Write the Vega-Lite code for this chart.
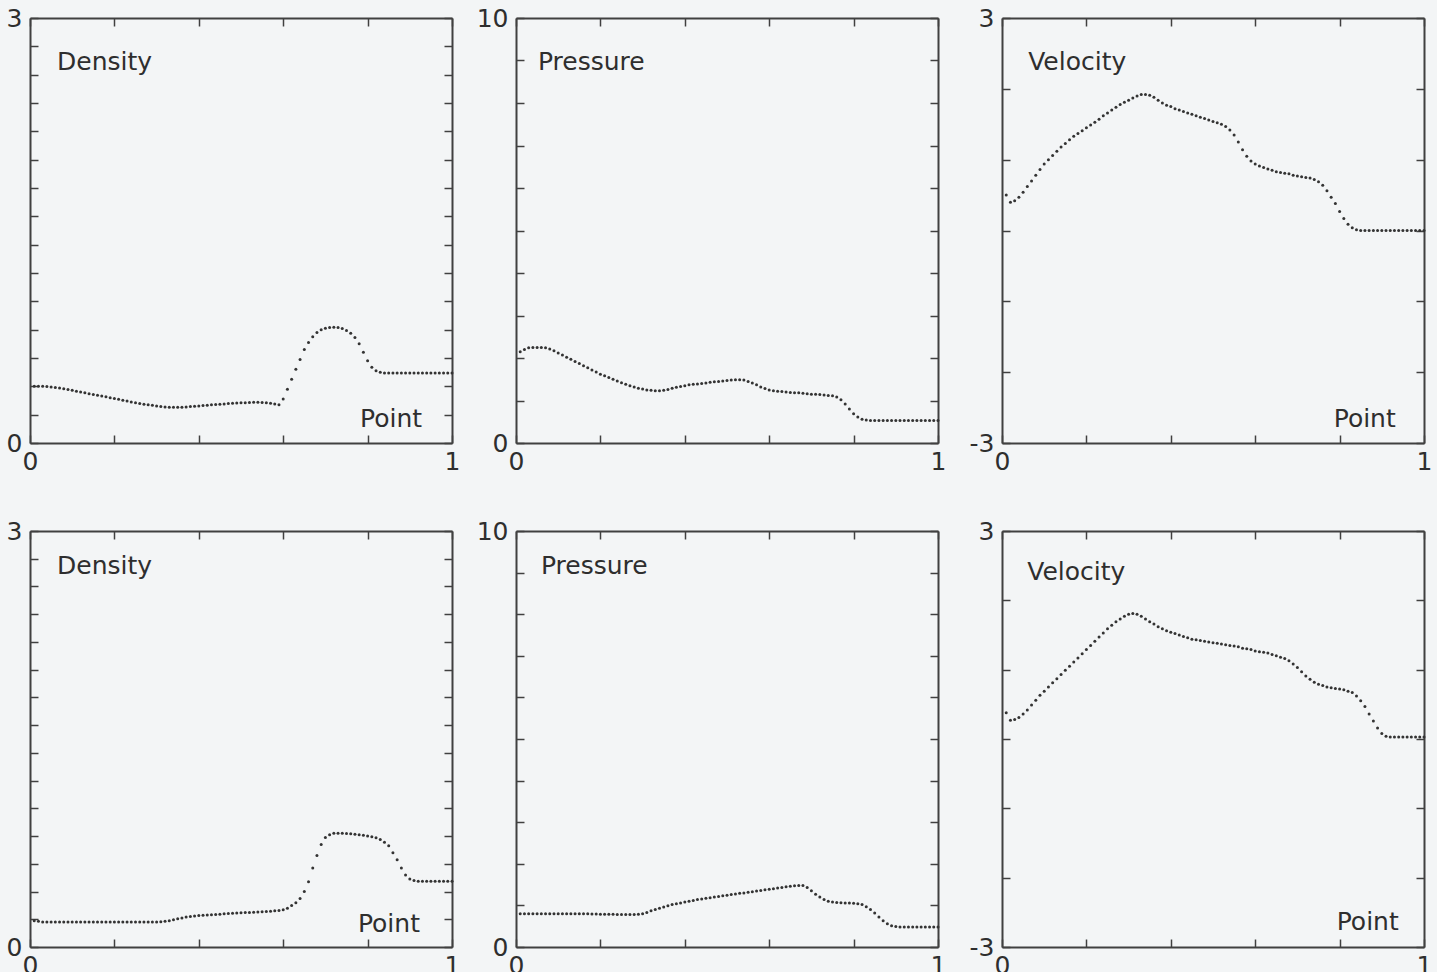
{
"$schema": "https://vega.github.io/schema/vega-lite/v6.json",
"background": "#f3f5f6",
"padding": {"left": 6, "top": 6, "right": 5, "bottom": 5},
"bounds": "flush",
"spacing": {"row": 88, "column": 64},
"columns": 3,
"config": {
  "view": {"stroke": null},
  "axis": {"domainColor": "#404040", "domainWidth": 2, "tickColor": "#404040", "tickWidth": 1.5, "tickSize": -8, "labelPadding": 16, "labelFont": "DejaVu Sans", "labelFontSize": 25, "labelColor": "#2e2e2e", "grid": false, "labelOverlap": false, "labelBound": false, "labelFlush": false}
},
"datasets": {
"d1": [{"x":0.01,"y":0.4},{"x":0.02,"y":0.4},{"x":0.03,"y":0.4},{"x":0.04,"y":0.398},{"x":0.05,"y":0.395},{"x":0.06,"y":0.392},{"x":0.07,"y":0.388},{"x":0.08,"y":0.383},{"x":0.09,"y":0.378},{"x":0.1,"y":0.372},
{"x":0.11,"y":0.366},{"x":0.12,"y":0.36},{"x":0.13,"y":0.354},{"x":0.14,"y":0.348},{"x":0.15,"y":0.342},{"x":0.16,"y":0.337},{"x":0.17,"y":0.332},{"x":0.18,"y":0.326},{"x":0.19,"y":0.32},{"x":0.2,"y":0.314},
{"x":0.21,"y":0.308},{"x":0.22,"y":0.302},{"x":0.23,"y":0.296},{"x":0.24,"y":0.29},{"x":0.25,"y":0.284},{"x":0.26,"y":0.279},{"x":0.27,"y":0.274},{"x":0.28,"y":0.27},{"x":0.29,"y":0.266},{"x":0.3,"y":0.262},
{"x":0.31,"y":0.258},{"x":0.32,"y":0.255},{"x":0.33,"y":0.253},{"x":0.34,"y":0.252},{"x":0.35,"y":0.252},{"x":0.36,"y":0.253},{"x":0.37,"y":0.255},{"x":0.38,"y":0.257},{"x":0.39,"y":0.26},{"x":0.4,"y":0.262},
{"x":0.41,"y":0.265},{"x":0.42,"y":0.267},{"x":0.43,"y":0.27},{"x":0.44,"y":0.272},{"x":0.45,"y":0.274},{"x":0.46,"y":0.276},{"x":0.47,"y":0.278},{"x":0.48,"y":0.28},{"x":0.49,"y":0.282},{"x":0.5,"y":0.284},
{"x":0.51,"y":0.285},{"x":0.52,"y":0.286},{"x":0.53,"y":0.287},{"x":0.54,"y":0.287},{"x":0.55,"y":0.286},{"x":0.56,"y":0.284},{"x":0.57,"y":0.28},{"x":0.58,"y":0.275},{"x":0.59,"y":0.27},{"x":0.6,"y":0.31},
{"x":0.61,"y":0.38},{"x":0.62,"y":0.45},{"x":0.63,"y":0.52},{"x":0.64,"y":0.59},{"x":0.65,"y":0.66},{"x":0.66,"y":0.71},{"x":0.67,"y":0.75},{"x":0.68,"y":0.78},{"x":0.69,"y":0.8},{"x":0.7,"y":0.81},
{"x":0.71,"y":0.815},{"x":0.72,"y":0.817},{"x":0.73,"y":0.815},{"x":0.74,"y":0.808},{"x":0.75,"y":0.795},{"x":0.76,"y":0.775},{"x":0.77,"y":0.745},{"x":0.78,"y":0.7},{"x":0.79,"y":0.64},{"x":0.8,"y":0.58},
{"x":0.81,"y":0.535},{"x":0.82,"y":0.51},{"x":0.83,"y":0.5},{"x":0.84,"y":0.495},{"x":0.85,"y":0.495},{"x":0.86,"y":0.495},{"x":0.87,"y":0.495},{"x":0.88,"y":0.495},{"x":0.89,"y":0.495},{"x":0.9,"y":0.495},
{"x":0.91,"y":0.495},{"x":0.92,"y":0.495},{"x":0.93,"y":0.495},{"x":0.94,"y":0.495},{"x":0.95,"y":0.495},{"x":0.96,"y":0.495},{"x":0.97,"y":0.495},{"x":0.98,"y":0.495},{"x":0.99,"y":0.495},{"x":1,"y":0.495}],
"d2": [{"x":0.01,"y":2.15},{"x":0.02,"y":2.2},{"x":0.03,"y":2.24},{"x":0.04,"y":2.25},{"x":0.05,"y":2.25},{"x":0.06,"y":2.25},{"x":0.07,"y":2.24},{"x":0.08,"y":2.21},{"x":0.09,"y":2.17},{"x":0.1,"y":2.12},
{"x":0.11,"y":2.07},{"x":0.12,"y":2.02},{"x":0.13,"y":1.97},{"x":0.14,"y":1.92},{"x":0.15,"y":1.87},{"x":0.16,"y":1.82},{"x":0.17,"y":1.77},{"x":0.18,"y":1.72},{"x":0.19,"y":1.67},{"x":0.2,"y":1.62},
{"x":0.21,"y":1.58},{"x":0.22,"y":1.54},{"x":0.23,"y":1.5},{"x":0.24,"y":1.46},{"x":0.25,"y":1.42},{"x":0.26,"y":1.38},{"x":0.27,"y":1.35},{"x":0.28,"y":1.32},{"x":0.29,"y":1.29},{"x":0.3,"y":1.27},
{"x":0.31,"y":1.25},{"x":0.32,"y":1.24},{"x":0.33,"y":1.23},{"x":0.34,"y":1.23},{"x":0.35,"y":1.24},{"x":0.36,"y":1.26},{"x":0.37,"y":1.29},{"x":0.38,"y":1.31},{"x":0.39,"y":1.33},{"x":0.4,"y":1.35},
{"x":0.41,"y":1.37},{"x":0.42,"y":1.38},{"x":0.43,"y":1.39},{"x":0.44,"y":1.4},{"x":0.45,"y":1.41},{"x":0.46,"y":1.43},{"x":0.47,"y":1.44},{"x":0.48,"y":1.45},{"x":0.49,"y":1.46},{"x":0.5,"y":1.47},
{"x":0.51,"y":1.48},{"x":0.52,"y":1.49},{"x":0.53,"y":1.49},{"x":0.54,"y":1.48},{"x":0.55,"y":1.45},{"x":0.56,"y":1.41},{"x":0.57,"y":1.37},{"x":0.58,"y":1.32},{"x":0.59,"y":1.28},{"x":0.6,"y":1.25},
{"x":0.61,"y":1.23},{"x":0.62,"y":1.22},{"x":0.63,"y":1.21},{"x":0.64,"y":1.2},{"x":0.65,"y":1.19},{"x":0.66,"y":1.18},{"x":0.67,"y":1.18},{"x":0.68,"y":1.17},{"x":0.69,"y":1.16},{"x":0.7,"y":1.15},
{"x":0.71,"y":1.15},{"x":0.72,"y":1.14},{"x":0.73,"y":1.13},{"x":0.74,"y":1.12},{"x":0.75,"y":1.11},{"x":0.76,"y":1.08},{"x":0.77,"y":1.02},{"x":0.78,"y":0.92},{"x":0.79,"y":0.8},{"x":0.8,"y":0.69},
{"x":0.81,"y":0.61},{"x":0.82,"y":0.56},{"x":0.83,"y":0.54},{"x":0.84,"y":0.53},{"x":0.85,"y":0.53},{"x":0.86,"y":0.53},{"x":0.87,"y":0.53},{"x":0.88,"y":0.53},{"x":0.89,"y":0.53},{"x":0.9,"y":0.53},
{"x":0.91,"y":0.53},{"x":0.92,"y":0.53},{"x":0.93,"y":0.53},{"x":0.94,"y":0.53},{"x":0.95,"y":0.53},{"x":0.96,"y":0.53},{"x":0.97,"y":0.53},{"x":0.98,"y":0.53},{"x":0.99,"y":0.53},{"x":1,"y":0.53}],
"d3": [{"x":0.01,"y":0.5},{"x":0.02,"y":0.4},{"x":0.03,"y":0.42},{"x":0.04,"y":0.47},{"x":0.05,"y":0.54},{"x":0.06,"y":0.62},{"x":0.07,"y":0.7},{"x":0.08,"y":0.78},{"x":0.09,"y":0.86},{"x":0.1,"y":0.94},
{"x":0.11,"y":1.0},{"x":0.12,"y":1.06},{"x":0.13,"y":1.12},{"x":0.14,"y":1.18},{"x":0.15,"y":1.23},{"x":0.16,"y":1.28},{"x":0.17,"y":1.33},{"x":0.18,"y":1.37},{"x":0.19,"y":1.41},{"x":0.2,"y":1.45},
{"x":0.21,"y":1.49},{"x":0.22,"y":1.53},{"x":0.23,"y":1.57},{"x":0.24,"y":1.62},{"x":0.25,"y":1.66},{"x":0.26,"y":1.7},{"x":0.27,"y":1.74},{"x":0.28,"y":1.78},{"x":0.29,"y":1.81},{"x":0.3,"y":1.84},
{"x":0.31,"y":1.87},{"x":0.32,"y":1.9},{"x":0.33,"y":1.92},{"x":0.34,"y":1.92},{"x":0.35,"y":1.91},{"x":0.36,"y":1.88},{"x":0.37,"y":1.84},{"x":0.38,"y":1.8},{"x":0.39,"y":1.77},{"x":0.4,"y":1.75},
{"x":0.41,"y":1.72},{"x":0.42,"y":1.7},{"x":0.43,"y":1.68},{"x":0.44,"y":1.66},{"x":0.45,"y":1.64},{"x":0.46,"y":1.62},{"x":0.47,"y":1.6},{"x":0.48,"y":1.58},{"x":0.49,"y":1.56},{"x":0.5,"y":1.54},
{"x":0.51,"y":1.52},{"x":0.52,"y":1.5},{"x":0.53,"y":1.47},{"x":0.54,"y":1.42},{"x":0.55,"y":1.35},{"x":0.56,"y":1.25},{"x":0.57,"y":1.14},{"x":0.58,"y":1.05},{"x":0.59,"y":0.98},{"x":0.6,"y":0.94},
{"x":0.61,"y":0.91},{"x":0.62,"y":0.89},{"x":0.63,"y":0.87},{"x":0.64,"y":0.85},{"x":0.65,"y":0.83},{"x":0.66,"y":0.82},{"x":0.67,"y":0.81},{"x":0.68,"y":0.8},{"x":0.69,"y":0.78},{"x":0.7,"y":0.77},
{"x":0.71,"y":0.76},{"x":0.72,"y":0.75},{"x":0.73,"y":0.74},{"x":0.74,"y":0.72},{"x":0.75,"y":0.69},{"x":0.76,"y":0.64},{"x":0.77,"y":0.56},{"x":0.78,"y":0.47},{"x":0.79,"y":0.38},{"x":0.8,"y":0.27},
{"x":0.81,"y":0.17},{"x":0.82,"y":0.09},{"x":0.83,"y":0.04},{"x":0.84,"y":0.01},{"x":0.85,"y":0},{"x":0.86,"y":0},{"x":0.87,"y":0},{"x":0.88,"y":0},{"x":0.89,"y":0},{"x":0.9,"y":0},
{"x":0.91,"y":0},{"x":0.92,"y":0},{"x":0.93,"y":0},{"x":0.94,"y":0},{"x":0.95,"y":0},{"x":0.96,"y":0},{"x":0.97,"y":0},{"x":0.98,"y":0},{"x":0.99,"y":0},{"x":1,"y":0}],
"d4": [{"x":0.01,"y":0.19},{"x":0.02,"y":0.185},{"x":0.03,"y":0.18},{"x":0.04,"y":0.18},{"x":0.05,"y":0.18},{"x":0.06,"y":0.18},{"x":0.07,"y":0.18},{"x":0.08,"y":0.18},{"x":0.09,"y":0.18},{"x":0.1,"y":0.18},
{"x":0.11,"y":0.18},{"x":0.12,"y":0.18},{"x":0.13,"y":0.18},{"x":0.14,"y":0.18},{"x":0.15,"y":0.18},{"x":0.16,"y":0.18},{"x":0.17,"y":0.18},{"x":0.18,"y":0.18},{"x":0.19,"y":0.18},{"x":0.2,"y":0.18},
{"x":0.21,"y":0.18},{"x":0.22,"y":0.18},{"x":0.23,"y":0.18},{"x":0.24,"y":0.18},{"x":0.25,"y":0.18},{"x":0.26,"y":0.18},{"x":0.27,"y":0.18},{"x":0.28,"y":0.18},{"x":0.29,"y":0.18},{"x":0.3,"y":0.18},
{"x":0.31,"y":0.182},{"x":0.32,"y":0.186},{"x":0.33,"y":0.19},{"x":0.34,"y":0.196},{"x":0.35,"y":0.203},{"x":0.36,"y":0.21},{"x":0.37,"y":0.216},{"x":0.38,"y":0.22},{"x":0.39,"y":0.224},{"x":0.4,"y":0.227},
{"x":0.41,"y":0.229},{"x":0.42,"y":0.231},{"x":0.43,"y":0.233},{"x":0.44,"y":0.235},{"x":0.45,"y":0.237},{"x":0.46,"y":0.239},{"x":0.47,"y":0.241},{"x":0.48,"y":0.243},{"x":0.49,"y":0.245},{"x":0.5,"y":0.247},
{"x":0.51,"y":0.248},{"x":0.52,"y":0.249},{"x":0.53,"y":0.251},{"x":0.54,"y":0.252},{"x":0.55,"y":0.254},{"x":0.56,"y":0.256},{"x":0.57,"y":0.258},{"x":0.58,"y":0.261},{"x":0.59,"y":0.264},{"x":0.6,"y":0.268},
{"x":0.61,"y":0.28},{"x":0.62,"y":0.3},{"x":0.63,"y":0.32},{"x":0.64,"y":0.35},{"x":0.65,"y":0.4},{"x":0.66,"y":0.47},{"x":0.67,"y":0.57},{"x":0.68,"y":0.66},{"x":0.69,"y":0.74},{"x":0.7,"y":0.79},
{"x":0.71,"y":0.81},{"x":0.72,"y":0.82},{"x":0.73,"y":0.82},{"x":0.74,"y":0.82},{"x":0.75,"y":0.818},{"x":0.76,"y":0.816},{"x":0.77,"y":0.814},{"x":0.78,"y":0.81},{"x":0.79,"y":0.805},{"x":0.8,"y":0.8},
{"x":0.81,"y":0.795},{"x":0.82,"y":0.787},{"x":0.83,"y":0.775},{"x":0.84,"y":0.755},{"x":0.85,"y":0.73},{"x":0.86,"y":0.68},{"x":0.87,"y":0.63},{"x":0.88,"y":0.57},{"x":0.89,"y":0.52},{"x":0.9,"y":0.49},
{"x":0.91,"y":0.48},{"x":0.92,"y":0.475},{"x":0.93,"y":0.475},{"x":0.94,"y":0.475},{"x":0.95,"y":0.475},{"x":0.96,"y":0.475},{"x":0.97,"y":0.475},{"x":0.98,"y":0.475},{"x":0.99,"y":0.475},{"x":1,"y":0.475}],
"d5": [{"x":0.01,"y":0.8},{"x":0.02,"y":0.8},{"x":0.03,"y":0.8},{"x":0.04,"y":0.8},{"x":0.05,"y":0.8},{"x":0.06,"y":0.8},{"x":0.07,"y":0.8},{"x":0.08,"y":0.8},{"x":0.09,"y":0.8},{"x":0.1,"y":0.8},
{"x":0.11,"y":0.8},{"x":0.12,"y":0.8},{"x":0.13,"y":0.8},{"x":0.14,"y":0.8},{"x":0.15,"y":0.8},{"x":0.16,"y":0.8},{"x":0.17,"y":0.8},{"x":0.18,"y":0.795},{"x":0.19,"y":0.795},{"x":0.2,"y":0.79},
{"x":0.21,"y":0.79},{"x":0.22,"y":0.785},{"x":0.23,"y":0.785},{"x":0.24,"y":0.78},{"x":0.25,"y":0.78},{"x":0.26,"y":0.78},{"x":0.27,"y":0.78},{"x":0.28,"y":0.78},{"x":0.29,"y":0.785},{"x":0.3,"y":0.8},
{"x":0.31,"y":0.83},{"x":0.32,"y":0.87},{"x":0.33,"y":0.9},{"x":0.34,"y":0.93},{"x":0.35,"y":0.96},{"x":0.36,"y":0.99},{"x":0.37,"y":1.02},{"x":0.38,"y":1.04},{"x":0.39,"y":1.06},{"x":0.4,"y":1.08},
{"x":0.41,"y":1.1},{"x":0.42,"y":1.12},{"x":0.43,"y":1.14},{"x":0.44,"y":1.155},{"x":0.45,"y":1.17},{"x":0.46,"y":1.185},{"x":0.47,"y":1.2},{"x":0.48,"y":1.215},{"x":0.49,"y":1.23},{"x":0.5,"y":1.245},
{"x":0.51,"y":1.26},{"x":0.52,"y":1.275},{"x":0.53,"y":1.29},{"x":0.54,"y":1.3},{"x":0.55,"y":1.315},{"x":0.56,"y":1.33},{"x":0.57,"y":1.345},{"x":0.58,"y":1.36},{"x":0.59,"y":1.375},{"x":0.6,"y":1.39},
{"x":0.61,"y":1.4},{"x":0.62,"y":1.42},{"x":0.63,"y":1.43},{"x":0.64,"y":1.45},{"x":0.65,"y":1.46},{"x":0.66,"y":1.47},{"x":0.67,"y":1.48},{"x":0.68,"y":1.48},{"x":0.69,"y":1.43},{"x":0.7,"y":1.35},
{"x":0.71,"y":1.27},{"x":0.72,"y":1.2},{"x":0.73,"y":1.14},{"x":0.74,"y":1.1},{"x":0.75,"y":1.08},{"x":0.76,"y":1.07},{"x":0.77,"y":1.065},{"x":0.78,"y":1.06},{"x":0.79,"y":1.055},{"x":0.8,"y":1.05},
{"x":0.81,"y":1.04},{"x":0.82,"y":1.02},{"x":0.83,"y":0.97},{"x":0.84,"y":0.9},{"x":0.85,"y":0.82},{"x":0.86,"y":0.72},{"x":0.87,"y":0.63},{"x":0.88,"y":0.56},{"x":0.89,"y":0.51},{"x":0.9,"y":0.49},
{"x":0.91,"y":0.48},{"x":0.92,"y":0.48},{"x":0.93,"y":0.48},{"x":0.94,"y":0.48},{"x":0.95,"y":0.48},{"x":0.96,"y":0.48},{"x":0.97,"y":0.48},{"x":0.98,"y":0.48},{"x":0.99,"y":0.48},{"x":1,"y":0.48}],
"d6": [{"x":0.01,"y":0.38},{"x":0.02,"y":0.27},{"x":0.03,"y":0.28},{"x":0.04,"y":0.31},{"x":0.05,"y":0.36},{"x":0.06,"y":0.42},{"x":0.07,"y":0.49},{"x":0.08,"y":0.56},{"x":0.09,"y":0.63},{"x":0.1,"y":0.69},
{"x":0.11,"y":0.75},{"x":0.12,"y":0.81},{"x":0.13,"y":0.87},{"x":0.14,"y":0.93},{"x":0.15,"y":0.99},{"x":0.16,"y":1.05},{"x":0.17,"y":1.11},{"x":0.18,"y":1.17},{"x":0.19,"y":1.23},{"x":0.2,"y":1.29},
{"x":0.21,"y":1.35},{"x":0.22,"y":1.41},{"x":0.23,"y":1.47},{"x":0.24,"y":1.53},{"x":0.25,"y":1.59},{"x":0.26,"y":1.64},{"x":0.27,"y":1.69},{"x":0.28,"y":1.73},{"x":0.29,"y":1.77},{"x":0.3,"y":1.8},
{"x":0.31,"y":1.81},{"x":0.32,"y":1.8},{"x":0.33,"y":1.77},{"x":0.34,"y":1.73},{"x":0.35,"y":1.69},{"x":0.36,"y":1.66},{"x":0.37,"y":1.62},{"x":0.38,"y":1.59},{"x":0.39,"y":1.56},{"x":0.4,"y":1.54},
{"x":0.41,"y":1.52},{"x":0.42,"y":1.5},{"x":0.43,"y":1.48},{"x":0.44,"y":1.46},{"x":0.45,"y":1.44},{"x":0.46,"y":1.43},{"x":0.47,"y":1.42},{"x":0.48,"y":1.41},{"x":0.49,"y":1.4},{"x":0.5,"y":1.39},
{"x":0.51,"y":1.38},{"x":0.52,"y":1.37},{"x":0.53,"y":1.36},{"x":0.54,"y":1.35},{"x":0.55,"y":1.34},{"x":0.56,"y":1.33},{"x":0.57,"y":1.31},{"x":0.58,"y":1.3},{"x":0.59,"y":1.29},{"x":0.6,"y":1.27},
{"x":0.61,"y":1.26},{"x":0.62,"y":1.25},{"x":0.63,"y":1.24},{"x":0.64,"y":1.22},{"x":0.65,"y":1.2},{"x":0.66,"y":1.18},{"x":0.67,"y":1.16},{"x":0.68,"y":1.13},{"x":0.69,"y":1.08},{"x":0.7,"y":1.03},
{"x":0.71,"y":0.97},{"x":0.72,"y":0.91},{"x":0.73,"y":0.86},{"x":0.74,"y":0.82},{"x":0.75,"y":0.79},{"x":0.76,"y":0.77},{"x":0.77,"y":0.75},{"x":0.78,"y":0.74},{"x":0.79,"y":0.73},{"x":0.8,"y":0.72},
{"x":0.81,"y":0.71},{"x":0.82,"y":0.69},{"x":0.83,"y":0.67},{"x":0.84,"y":0.62},{"x":0.85,"y":0.55},{"x":0.86,"y":0.47},{"x":0.87,"y":0.36},{"x":0.88,"y":0.26},{"x":0.89,"y":0.16},{"x":0.9,"y":0.08},
{"x":0.91,"y":0.04},{"x":0.92,"y":0.03},{"x":0.93,"y":0.03},{"x":0.94,"y":0.03},{"x":0.95,"y":0.03},{"x":0.96,"y":0.03},{"x":0.97,"y":0.03},{"x":0.98,"y":0.03},{"x":0.99,"y":0.03},{"x":1,"y":0.03}]
},
"concat": [
{"width":422,"height":425,
 "layer":[
  {"data":{"name":"d1"},"mark":{"type":"circle","size":9,"color":"#333333","opacity":1},
   "encoding":{
    "x":{"field":"x","type":"quantitative","scale":{"domain":[0,1],"nice":false},"axis":{"orient":"bottom","title":null,"values":[0,0.2,0.4,0.6,0.8,1],"labelPadding":14,"labelExpr":"datum.value==0?'0':datum.value==1?'1':''"}},
    "y":{"field":"y","type":"quantitative","scale":{"domain":[0,3],"nice":false,"zero":false},"axis":{"orient":"left","title":null,"values":[0,0.2,0.4,0.6,0.8,1,1.2,1.4,1.6,1.8,2,2.2,2.4,2.6,2.8,3],"labelExpr":"datum.value==0?'0':datum.value==3?'3':''"}}}},
  {"data":{"values":[{}]},"mark":{"type":"text","align":"left","baseline":"alphabetic","fontSize":25,"font":"DejaVu Sans","color":"#2e2e2e"},
   "encoding":{
    "x":{"datum":0.064,"type":"quantitative","axis":{"orient":"top","title":null,"values":[0,0.2,0.4,0.6,0.8,1],"labels":false}},
    "y":{"datum":2.63,"type":"quantitative","axis":{"orient":"right","title":null,"values":[0,0.2,0.4,0.6,0.8,1,1.2,1.4,1.6,1.8,2,2.2,2.4,2.6,2.8,3],"labels":false}},
    "text":{"value":"Density"}}},
  {"data":{"values":[{}]},"mark":{"type":"text","align":"left","baseline":"alphabetic","fontSize":25,"font":"DejaVu Sans","color":"#2e2e2e"},
   "encoding":{"x":{"datum":0.782,"type":"quantitative","axis":null},"y":{"datum":0.113,"type":"quantitative","axis":null},"text":{"value":"Point"}}}
 ],
 "resolve":{"axis":{"x":"independent","y":"independent"}}},
{"width":422,"height":425,
 "layer":[
  {"data":{"name":"d2"},"mark":{"type":"circle","size":9,"color":"#333333","opacity":1},
   "encoding":{
    "x":{"field":"x","type":"quantitative","scale":{"domain":[0,1],"nice":false},"axis":{"orient":"bottom","title":null,"values":[0,0.2,0.4,0.6,0.8,1],"labelPadding":14,"labelExpr":"datum.value==0?'0':datum.value==1?'1':''"}},
    "y":{"field":"y","type":"quantitative","scale":{"domain":[0,10],"nice":false,"zero":false},"axis":{"orient":"left","title":null,"values":[0,1,2,3,4,5,6,7,8,9,10],"labelExpr":"datum.value==0?'0':datum.value==10?'10':''"}}}},
  {"data":{"values":[{}]},"mark":{"type":"text","align":"left","baseline":"alphabetic","fontSize":25,"font":"DejaVu Sans","color":"#2e2e2e"},
   "encoding":{
    "x":{"datum":0.052,"type":"quantitative","axis":{"orient":"top","title":null,"values":[0,0.2,0.4,0.6,0.8,1],"labels":false}},
    "y":{"datum":8.78,"type":"quantitative","axis":{"orient":"right","title":null,"values":[0,1,2,3,4,5,6,7,8,9,10],"labels":false}},
    "text":{"value":"Pressure"}}}
 ],
 "resolve":{"axis":{"x":"independent","y":"independent"}}},
{"width":422,"height":425,
 "layer":[
  {"data":{"name":"d3"},"mark":{"type":"circle","size":9,"color":"#333333","opacity":1},
   "encoding":{
    "x":{"field":"x","type":"quantitative","scale":{"domain":[0,1],"nice":false},"axis":{"orient":"bottom","title":null,"values":[0,0.2,0.4,0.6,0.8,1],"labelPadding":14,"labelExpr":"datum.value==0?'0':datum.value==1?'1':''"}},
    "y":{"field":"y","type":"quantitative","scale":{"domain":[-3,3],"nice":false,"zero":false},"axis":{"orient":"left","title":null,"values":[-3,-2,-1,0,1,2,3],"labelExpr":"datum.value==3?'3':datum.value==-3?'-3':''"}}}},
  {"data":{"values":[{}]},"mark":{"type":"text","align":"left","baseline":"alphabetic","fontSize":25,"font":"DejaVu Sans","color":"#2e2e2e"},
   "encoding":{
    "x":{"datum":0.062,"type":"quantitative","axis":{"orient":"top","title":null,"values":[0,0.2,0.4,0.6,0.8,1],"labels":false}},
    "y":{"datum":2.27,"type":"quantitative","axis":{"orient":"right","title":null,"values":[-3,-2,-1,0,1,2,3],"labels":false}},
    "text":{"value":"Velocity"}}},
  {"data":{"values":[{}]},"mark":{"type":"text","align":"left","baseline":"alphabetic","fontSize":25,"font":"DejaVu Sans","color":"#2e2e2e"},
   "encoding":{"x":{"datum":0.786,"type":"quantitative","axis":null},"y":{"datum":-2.774,"type":"quantitative","axis":null},"text":{"value":"Point"}}}
 ],
 "resolve":{"axis":{"x":"independent","y":"independent"}}},
{"width":422,"height":416,
 "layer":[
  {"data":{"name":"d4"},"mark":{"type":"circle","size":9,"color":"#333333","opacity":1},
   "encoding":{
    "x":{"field":"x","type":"quantitative","scale":{"domain":[0,1],"nice":false},"axis":{"orient":"bottom","title":null,"values":[0,0.2,0.4,0.6,0.8,1],"labelPadding":14,"labelExpr":"datum.value==0?'0':datum.value==1?'1':''"}},
    "y":{"field":"y","type":"quantitative","scale":{"domain":[0,3],"nice":false,"zero":false},"axis":{"orient":"left","title":null,"values":[0,0.2,0.4,0.6,0.8,1,1.2,1.4,1.6,1.8,2,2.2,2.4,2.6,2.8,3],"labelExpr":"datum.value==0?'0':datum.value==3?'3':''"}}}},
  {"data":{"values":[{}]},"mark":{"type":"text","align":"left","baseline":"alphabetic","fontSize":25,"font":"DejaVu Sans","color":"#2e2e2e"},
   "encoding":{
    "x":{"datum":0.064,"type":"quantitative","axis":{"orient":"top","title":null,"values":[0,0.2,0.4,0.6,0.8,1],"labels":false}},
    "y":{"datum":2.69,"type":"quantitative","axis":{"orient":"right","title":null,"values":[0,0.2,0.4,0.6,0.8,1,1.2,1.4,1.6,1.8,2,2.2,2.4,2.6,2.8,3],"labels":false}},
    "text":{"value":"Density"}}},
  {"data":{"values":[{}]},"mark":{"type":"text","align":"left","baseline":"alphabetic","fontSize":25,"font":"DejaVu Sans","color":"#2e2e2e"},
   "encoding":{"x":{"datum":0.777,"type":"quantitative","axis":null},"y":{"datum":0.108,"type":"quantitative","axis":null},"text":{"value":"Point"}}}
 ],
 "resolve":{"axis":{"x":"independent","y":"independent"}}},
{"width":422,"height":416,
 "layer":[
  {"data":{"name":"d5"},"mark":{"type":"circle","size":9,"color":"#333333","opacity":1},
   "encoding":{
    "x":{"field":"x","type":"quantitative","scale":{"domain":[0,1],"nice":false},"axis":{"orient":"bottom","title":null,"values":[0,0.2,0.4,0.6,0.8,1],"labelPadding":14,"labelExpr":"datum.value==0?'0':datum.value==1?'1':''"}},
    "y":{"field":"y","type":"quantitative","scale":{"domain":[0,10],"nice":false,"zero":false},"axis":{"orient":"left","title":null,"values":[0,1,2,3,4,5,6,7,8,9,10],"labelExpr":"datum.value==0?'0':datum.value==10?'10':''"}}}},
  {"data":{"values":[{}]},"mark":{"type":"text","align":"left","baseline":"alphabetic","fontSize":25,"font":"DejaVu Sans","color":"#2e2e2e"},
   "encoding":{
    "x":{"datum":0.059,"type":"quantitative","axis":{"orient":"top","title":null,"values":[0,0.2,0.4,0.6,0.8,1],"labels":false}},
    "y":{"datum":8.97,"type":"quantitative","axis":{"orient":"right","title":null,"values":[0,1,2,3,4,5,6,7,8,9,10],"labels":false}},
    "text":{"value":"Pressure"}}}
 ],
 "resolve":{"axis":{"x":"independent","y":"independent"}}},
{"width":422,"height":416,
 "layer":[
  {"data":{"name":"d6"},"mark":{"type":"circle","size":9,"color":"#333333","opacity":1},
   "encoding":{
    "x":{"field":"x","type":"quantitative","scale":{"domain":[0,1],"nice":false},"axis":{"orient":"bottom","title":null,"values":[0,0.2,0.4,0.6,0.8,1],"labelPadding":14,"labelExpr":"datum.value==0?'0':datum.value==1?'1':''"}},
    "y":{"field":"y","type":"quantitative","scale":{"domain":[-3,3],"nice":false,"zero":false},"axis":{"orient":"left","title":null,"values":[-3,-2,-1,0,1,2,3],"labelExpr":"datum.value==3?'3':datum.value==-3?'-3':''"}}}},
  {"data":{"values":[{}]},"mark":{"type":"text","align":"left","baseline":"alphabetic","fontSize":25,"font":"DejaVu Sans","color":"#2e2e2e"},
   "encoding":{
    "x":{"datum":0.06,"type":"quantitative","axis":{"orient":"top","title":null,"values":[0,0.2,0.4,0.6,0.8,1],"labels":false}},
    "y":{"datum":2.3,"type":"quantitative","axis":{"orient":"right","title":null,"values":[-3,-2,-1,0,1,2,3],"labels":false}},
    "text":{"value":"Velocity"}}},
  {"data":{"values":[{}]},"mark":{"type":"text","align":"left","baseline":"alphabetic","fontSize":25,"font":"DejaVu Sans","color":"#2e2e2e"},
   "encoding":{"x":{"datum":0.793,"type":"quantitative","axis":null},"y":{"datum":-2.755,"type":"quantitative","axis":null},"text":{"value":"Point"}}}
 ],
 "resolve":{"axis":{"x":"independent","y":"independent"}}}
]
}
